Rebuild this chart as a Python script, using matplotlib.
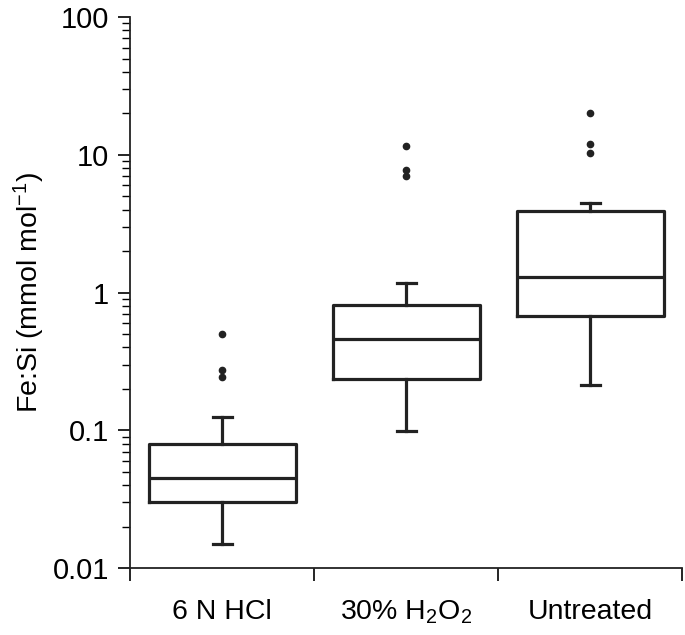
import numpy as np
import matplotlib
matplotlib.use("Agg")
import matplotlib.pyplot as plt
from matplotlib.ticker import FixedLocator, NullFormatter, LogLocator

plt.rcParams['font.family'] = ['Liberation Sans', 'DejaVu Sans']
plt.rcParams['mathtext.fontset'] = 'custom'
plt.rcParams['mathtext.rm'] = 'Liberation Sans'
plt.rcParams['mathtext.it'] = 'Liberation Sans:italic'
plt.rcParams['mathtext.bf'] = 'Liberation Sans:bold'

# box statistics (Fe:Si, mmol/mol)
labels = ["6 N HCl", "30% H$_2$O$_2$", "Untreated"]
whislo = [0.015, 0.099, 0.213]
q1 = [0.030, 0.237, 0.672]
med = [0.0453, 0.462, 1.30]
q3 = [0.079, 0.816, 3.88]
whishi = [0.125, 1.17, 4.49]
fliers = [[0.50, 0.274, 0.242], [11.6, 7.78, 7.02], [20.3, 11.9, 10.4]]

stats = []
for i in range(3):
    stats.append(dict(whislo=whislo[i], q1=q1[i], med=med[i], q3=q3[i],
                      whishi=whishi[i], fliers=fliers[i]))

fig = plt.figure(figsize=(6.85, 6.35), dpi=100)
ax = fig.add_axes([0.19, 0.1055, 0.806, 0.8675])

lw = 2.3
ax.bxp(stats, positions=[1, 2, 3], widths=0.8, capwidths=0.105,
       showfliers=True,
       boxprops=dict(color='#222222', linewidth=lw),
       medianprops=dict(color='#222222', linewidth=lw),
       whiskerprops=dict(color='#222222', linewidth=lw),
       capprops=dict(color='#222222', linewidth=lw),
       flierprops=dict(marker='o', markerfacecolor='#222222',
                       markeredgecolor='#222222', markersize=4.5))

ax.set_yscale('log')
ax.set_ylim(0.01, 100)
ax.set_xlim(0.5, 3.5)

ax.set_yticks([0.01, 0.1, 1, 10, 100])
ax.set_yticklabels(["0.01", "0.1", "1", "10", "100"])
ax.yaxis.set_minor_locator(LogLocator(base=10, subs=np.arange(2, 10)))
ax.yaxis.set_minor_formatter(NullFormatter())

ax.xaxis.set_major_locator(FixedLocator([0.5, 1.5, 2.5, 3.5]))
ax.set_xticklabels([])
ax.xaxis.set_minor_locator(FixedLocator([1, 2, 3]))
ax.set_xticklabels(labels, minor=True)
ax.tick_params(axis='x', which='minor', length=0, pad=22, labelsize=20.5)
ax.tick_params(axis='x', which='major', length=9, width=1.2, direction='out')
ax.tick_params(axis='y', which='major', length=9, width=1.2, labelsize=21, pad=6)
ax.tick_params(axis='y', which='minor', length=5.5, width=1.0)

for s in ['top', 'right']:
    ax.spines[s].set_visible(False)
for s in ['left', 'bottom']:
    ax.spines[s].set_linewidth(1.3)
    ax.spines[s].set_color('#222222')

ax.set_ylabel("Fe:Si (mmol mol$^{-1}$)", fontsize=20.5, labelpad=4)

fig.savefig("out.png", dpi=100)
